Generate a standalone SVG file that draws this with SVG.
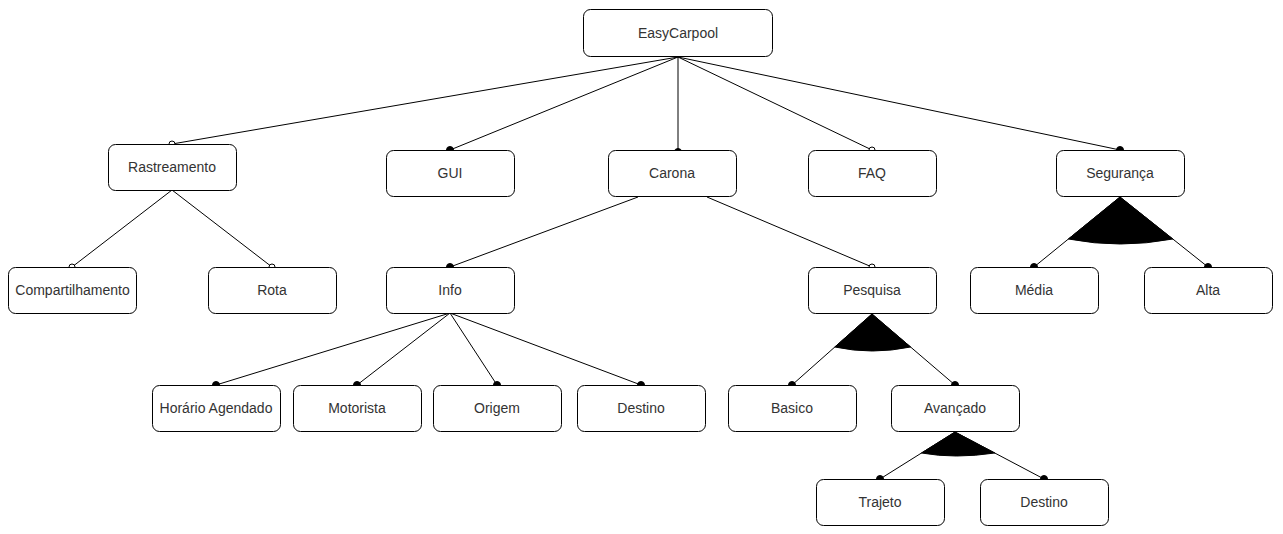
<svg xmlns="http://www.w3.org/2000/svg" width="1283" height="534" viewBox="0 0 1283 534">
<style>
.box{fill:#fff;stroke:#000;stroke-width:1}
.lbl{font-family:"Liberation Sans",Arial,sans-serif;font-size:14px;fill:#333;text-anchor:middle;dominant-baseline:central}
.edge{stroke:#000;stroke-width:1;fill:none}
.dot{fill:#000;stroke:#000;stroke-width:1}
.odot{fill:#fff;stroke:#000;stroke-width:1}
.alt{fill:#000;stroke:#000;stroke-width:1}
</style>
<rect width="1283" height="534" fill="#fff"/>
<g id="connectors">
<path class="edge" d="M678,57 L172,144 M678,57 L450,150 M678,57 L678,150 M678,57 L872,150 M678,57 L1120,150"/>
<path class="edge" d="M172,190 L72,267 M172,190 L272,267"/>
<path class="edge" d="M638,197 L450,267 M707,197 L872,267"/>
<path class="edge" d="M450,313 L216,385 M450,313 L357,385 M450,313 L497,385 M450,313 L641,385"/>
<path class="edge" d="M872,314 L792,385 M872,314 L955,385"/>
<path class="edge" d="M1120,197 L1034,267 M1120,197 L1208,267"/>
<path class="edge" d="M955,432 L880,479 M955,432 L1044,479"/>
<path class="alt" d="M1120,197 L1068.4,239 Q1120,249 1172.8,239 Z"/>
<path class="alt" d="M872,314 L834.8,347 Q872,355 910.6,347 Z"/>
<path class="alt" d="M955,432 L921.5,453 Q955,459 994.8,453 Z"/>
<circle class="odot" cx="172" cy="144" r="3"/>
<circle class="dot" cx="450" cy="150" r="3.5"/>
<circle class="dot" cx="678" cy="152" r="3.5"/>
<circle class="odot" cx="872" cy="150" r="3"/>
<circle class="dot" cx="1120" cy="150" r="3.5"/>
<circle class="odot" cx="72" cy="267" r="3"/>
<circle class="odot" cx="272" cy="267" r="3"/>
<circle class="dot" cx="450" cy="267" r="3.5"/>
<circle class="odot" cx="872" cy="267" r="3"/>
<circle class="dot" cx="1034" cy="267" r="3.5"/>
<circle class="dot" cx="1208" cy="267" r="3.5"/>
<circle class="dot" cx="216" cy="385" r="3.5"/>
<circle class="dot" cx="357" cy="385" r="3.5"/>
<circle class="dot" cx="497" cy="385" r="3.5"/>
<circle class="dot" cx="641" cy="385" r="3.5"/>
<circle class="dot" cx="792" cy="385" r="3.5"/>
<circle class="dot" cx="955" cy="385" r="3.5"/>
<circle class="dot" cx="880" cy="479" r="3.5"/>
<circle class="dot" cx="1044" cy="479" r="3.5"/>
</g>
<g id="easycarpool"><rect class="box" x="583.5" y="9.5" width="189" height="47" rx="7"/><text class="lbl" x="678" y="33">EasyCarpool</text></g>
<g id="rastreamento"><rect class="box" x="108.5" y="144.5" width="128" height="46" rx="7"/><text class="lbl" x="172" y="167">Rastreamento</text></g>
<g id="gui"><rect class="box" x="386.5" y="150.5" width="128" height="46" rx="7"/><text class="lbl" x="450" y="173">GUI</text></g>
<g id="carona"><rect class="box" x="608.5" y="150.5" width="128" height="46" rx="7"/><text class="lbl" x="672" y="173">Carona</text></g>
<g id="faq"><rect class="box" x="808.5" y="150.5" width="128" height="46" rx="7"/><text class="lbl" x="872" y="173">FAQ</text></g>
<g id="seguranca"><rect class="box" x="1056.5" y="150.5" width="128" height="46" rx="7"/><text class="lbl" x="1120" y="173">Segurança</text></g>
<g id="compartilhamento"><rect class="box" x="8.5" y="267.5" width="128" height="46" rx="7"/><text class="lbl" x="72.5" y="290">Compartilhamento</text></g>
<g id="rota"><rect class="box" x="208.5" y="267.5" width="128" height="46" rx="7"/><text class="lbl" x="272" y="290">Rota</text></g>
<g id="info"><rect class="box" x="386.5" y="267.5" width="128" height="46" rx="7"/><text class="lbl" x="450" y="290">Info</text></g>
<g id="pesquisa"><rect class="box" x="808.5" y="267.5" width="128" height="46" rx="7"/><text class="lbl" x="872" y="290">Pesquisa</text></g>
<g id="media"><rect class="box" x="970.5" y="267.5" width="128" height="46" rx="7"/><text class="lbl" x="1034" y="290">Média</text></g>
<g id="alta"><rect class="box" x="1144.5" y="267.5" width="128" height="46" rx="7"/><text class="lbl" x="1208" y="290">Alta</text></g>
<g id="horario"><rect class="box" x="152.5" y="385.5" width="128" height="46" rx="7"/><text class="lbl" x="216" y="408">Horário Agendado</text></g>
<g id="motorista"><rect class="box" x="293.5" y="385.5" width="128" height="46" rx="7"/><text class="lbl" x="357" y="408">Motorista</text></g>
<g id="origem"><rect class="box" x="433.5" y="385.5" width="128" height="46" rx="7"/><text class="lbl" x="497" y="408">Origem</text></g>
<g id="destino1"><rect class="box" x="577.5" y="385.5" width="128" height="46" rx="7"/><text class="lbl" x="641" y="408">Destino</text></g>
<g id="basico"><rect class="box" x="728.5" y="385.5" width="128" height="46" rx="7"/><text class="lbl" x="792" y="408">Basico</text></g>
<g id="avancado"><rect class="box" x="891.5" y="385.5" width="128" height="46" rx="7"/><text class="lbl" x="955" y="408">Avançado</text></g>
<g id="trajeto"><rect class="box" x="816.5" y="479.5" width="128" height="46" rx="7"/><text class="lbl" x="880" y="502">Trajeto</text></g>
<g id="destino2"><rect class="box" x="980.5" y="479.5" width="128" height="46" rx="7"/><text class="lbl" x="1044" y="502">Destino</text></g>
</svg>
